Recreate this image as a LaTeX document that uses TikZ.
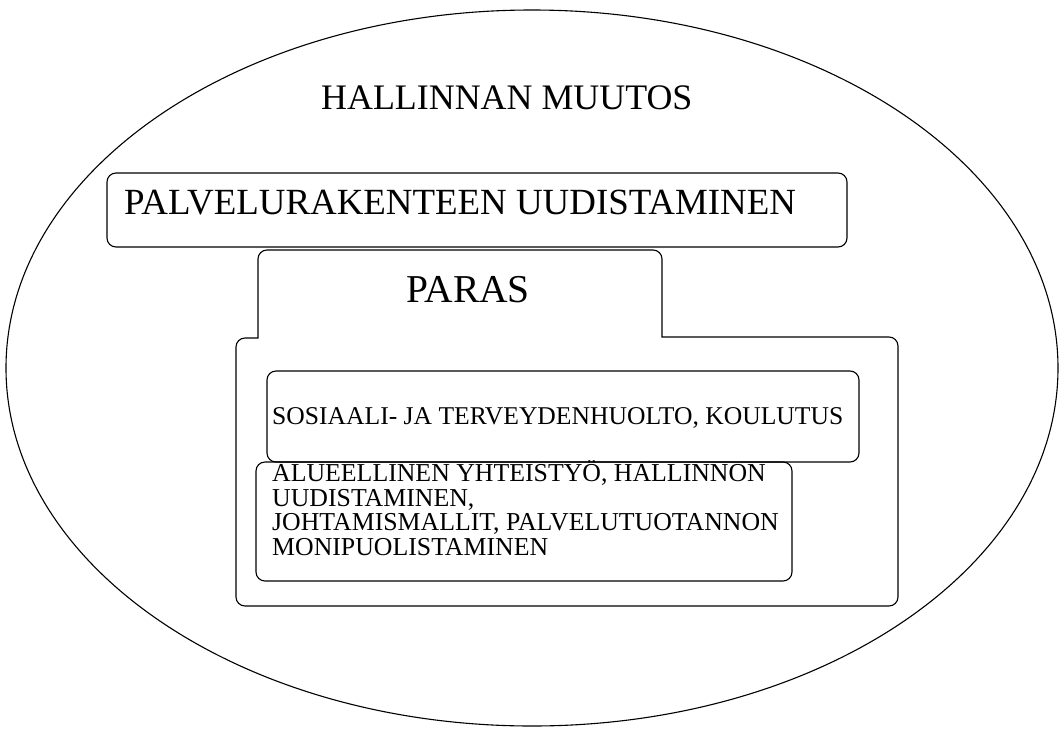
\documentclass[tikz,border=0pt]{standalone}
\usepackage{fontspec}
\setmainfont{Liberation Serif}
\usetikzlibrary{shapes.geometric}

\tikzset{
  roundbox/.style={draw,line width=1.1pt,rounded corners=9pt,inner sep=0pt},
  caption/.style={inner sep=0pt,anchor=base west},
}
\newcommand{\capsize}[1]{\fontsize{#1}{#1}\selectfont}

\begin{document}
\begin{tikzpicture}[x=1pt,y=-1pt]
    \useasboundingbox (0,0) rectangle (1061,729);

    \node[draw,ellipse,line width=1.1pt,minimum width=1052pt,minimum
    height=716pt,inner sep=0pt] (muutos) at (532,368) {};
    \node[caption,font=\capsize{35.9}] (muutostxt) at (321,109)
    {HALLINNAN MUUTOS};

    \node[roundbox,minimum width=740pt,minimum height=74pt] (palvelu) at
    (477,210) {}; \node[caption,font=\capsize{36.9}] (palvelutxt) at
    (124,214) {PALVELURAKENTEEN UUDISTAMINEN};

    % paras: tab on top, larger box below
    \draw[line width=1.1pt] (258,300) [rounded corners=9pt] -- (258,250)
    -- (662,250) [sharp corners] -- (662,337) [rounded corners=9pt] --
    (898,337) -- (898,606) -- (236,606) -- (236,338) [sharp corners] --
    (258,338) -- cycle;
    \node[caption,font=\capsize{39.5}] (paras) at (406,302) {PARAS};

    \node[roundbox,minimum width=592pt,minimum height=91pt] (sote) at
    (563,416.5) {}; \node[caption,font=\capsize{25.6}] (sotetxt) at
    (272,424) {SOSIAALI- JA TERVEYDENHUOLTO, KOULUTUS};

    \node[roundbox,minimum width=536pt,minimum height=119pt] (alue) at
    (524,521.5) {}; \node[caption,align=left,font=\fontsize{25.8}{24.5}\selectfont]
    (aluetxt) at (272,555) {ALUEELLINEN YHTEISTYÖ, HALLINNON\\
    UUDISTAMINEN,\\ JOHTAMISMALLIT, PALVELUTUOTANNON\\
    MONIPUOLISTAMINEN};

  \end{tikzpicture}
\end{document}
